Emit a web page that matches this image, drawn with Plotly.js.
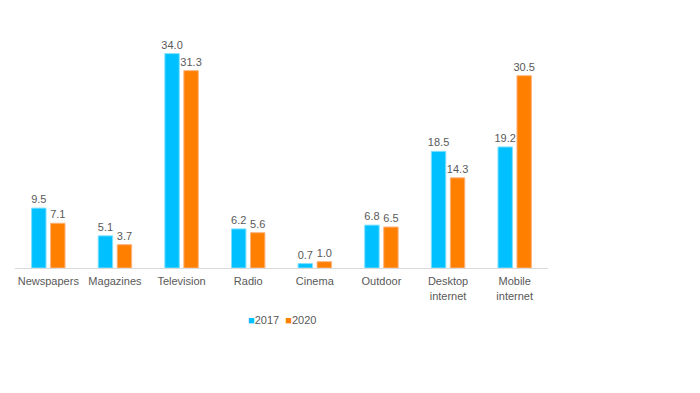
<!DOCTYPE html>
<html>
<head>
<meta charset="utf-8">
<script src="https://cdn.plot.ly/plotly-3.0.1.min.js"></script>
<style>html,body{margin:0;padding:0;background:#fff;}#chart{width:700px;height:393px;}</style>
</head>
<body>
<div id="chart"></div>
<script>
var categories = ["Newspapers", "Magazines", "Television", "Radio", "Cinema", "Outdoor", "Desktop<br>internet", "Mobile<br>internet"];
var seriesNames = ["2017", "2020"];
var values2017 = [9.5, 5.1, 34.0, 6.2, 0.7, 6.8, 18.5, 19.2];
var values2020 = [7.1, 3.7, 31.3, 5.6, 1.0, 6.5, 14.3, 30.5];

var colors = ["#00C0FF", "#FF8000"];
var txtFont = {family: "Liberation Sans, Arial, sans-serif", size: 11, color: "#595959"};

function mk(name, vals, color, line) {
  return {
    type: "bar", name: name, x: categories, y: vals,
    text: vals.map(function(v){ return v.toFixed(1); }),
    textposition: "outside", textfont: txtFont, cliponaxis: false,
    constraintext: "none",
    marker: {color: color, line: {color: line, width: 1}},
    hoverinfo: "x+y"
  };
}

var data = [
  mk(seriesNames[0], values2017, colors[0], "#7fe0ff"),
  mk(seriesNames[1], values2020, colors[1], "#ffb37f")
];

var legendText = seriesNames.map(function(n, i){
  return "<span style='color:" + colors[i] + "'>■</span>" + n;
}).join("  ");

var layout = {
  width: 700, height: 393,
  margin: {l: 15, r: 152, t: 41, b: 125},
  paper_bgcolor: "#fff", plot_bgcolor: "#fff",
  barmode: "group", bargap: 0.43, bargroupgap: 0.24,
  font: txtFont,
  xaxis: {
    showline: true, linecolor: "#d9d9d9", linewidth: 1,
    ticks: "", tickfont: txtFont, showgrid: false, fixedrange: true,
    ticklabelstandoff: 3
  },
  yaxis: {
    range: [0, 36], visible: false, showgrid: false, zeroline: false, fixedrange: true
  },
  showlegend: false,
  annotations: [{
    xref: "paper", yref: "paper", x: 0.5, y: -0.23, xanchor: "center", yanchor: "middle",
    text: legendText, showarrow: false, font: txtFont
  }]
};

Plotly.newPlot("chart", data, layout, {displayModeBar: false, staticPlot: true});
</script>
</body>
</html>
